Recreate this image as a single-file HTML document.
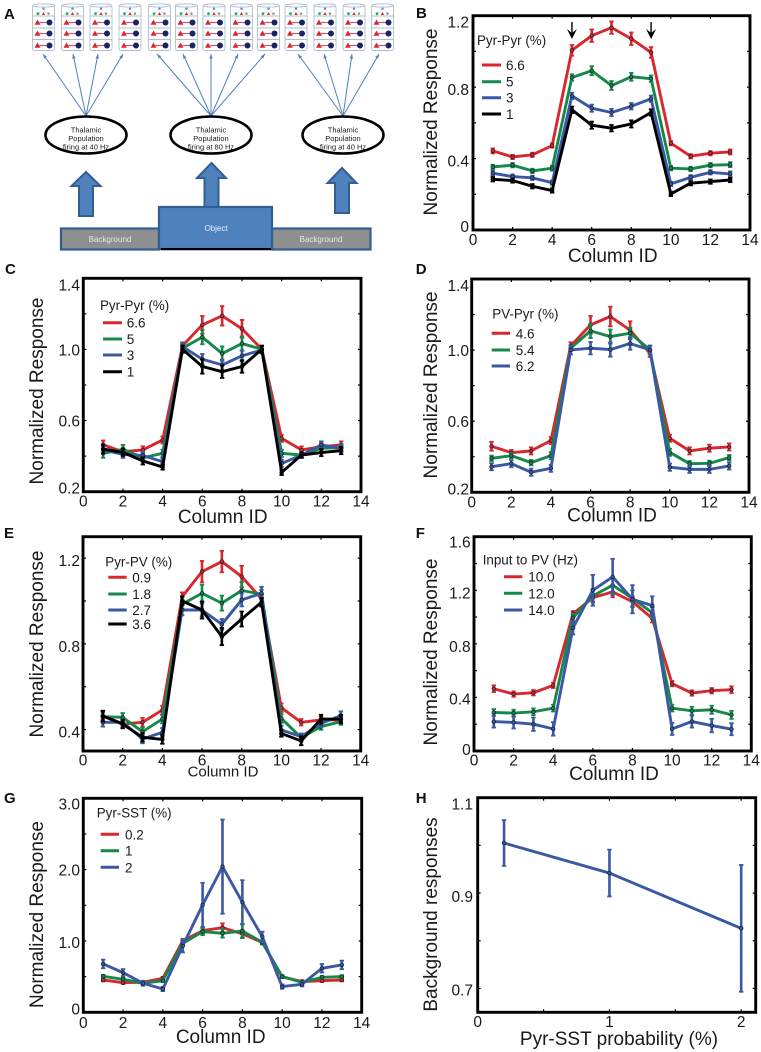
<!DOCTYPE html>
<html lang="en">
<head>
<meta charset="utf-8">
<title>Normalized response figure</title>
<style>
html,body{margin:0;padding:0;background:#fff;}
#figure{display:block;width:761px;height:1052px;font-family:"Liberation Sans",sans-serif;filter:blur(0.35px);}
text{font-family:"Liberation Sans",sans-serif;fill:#1a1a1a;}
</style>
</head>
<body>
<svg id="figure" xmlns="http://www.w3.org/2000/svg" width="761" height="1052" viewBox="0 0 761 1052"></svg>
<script>
// ---------- shared categories ----------
const columnIds = [1,2,3,4,5,6,7,8,9,10,11,12,13];
const columnTicks = [0,2,4,6,8,10,12,14];

// ---------- panel B ----------
const bLabels = ['6.6','5','3','1'];
const bRed = [.443,.409,.421,.473,1.006,1.088,1.133,1.071,.994,.486,.413,.43,.437];
const bGreen = [.353,.363,.331,.346,.854,.892,.809,.858,.847,.346,.342,.363,.366];
const bBlue = [.318,.299,.292,.265,.751,.682,.658,.693,.735,.258,.295,.323,.314];
const bBlack = [.284,.277,.245,.221,.673,.587,.570,.594,.658,.202,.262,.271,.28];
const bRedErr = [.014,.012,.012,.012,.03,.035,.035,.035,.03,.012,.012,.012,.014];
const bGreenErr = [.012,.012,.012,.014,.018,.025,.025,.022,.018,.012,.012,.012,.014];
const bBlueErr = [.014,.012,.012,.012,.018,.02,.02,.018,.018,.012,.012,.012,.014];
const bBlackErr = [.012,.012,.012,.012,.018,.02,.018,.02,.018,.012,.012,.012,.012];
const bTicks = ['0','0.4','0.8','1.2'];

// ---------- panel C ----------
const cLabels = ['6.6','5','3','1'];
const cRed = [.463,.425,.435,.491,1.02,1.138,1.189,1.116,1.001,.5,.435,.453,.463];
const cGreen = [.416,.438,.391,.416,1.007,1.069,.977,1.033,1.001,.416,.406,.444,.448];
const cBlue = [.435,.41,.403,.369,1.016,.945,.913,.964,.997,.359,.406,.463,.444];
const cBlack = [.44,.421,.373,.339,1.001,.904,.875,.904,1.001,.309,.406,.42,.431];
const cRedErr = [.025,.02,.02,.02,.02,.05,.055,.05,.02,.02,.02,.02,.02];
const cGreenErr = [.025,.025,.02,.02,.02,.04,.04,.04,.02,.02,.015,.02,.02];
const cBlueErr = [.02,.02,.02,.02,.02,.03,.03,.03,.02,.02,.015,.02,.02];
const cBlackErr = [.025,.02,.02,.015,.02,.04,.035,.035,.02,.015,.015,.02,.02];
const cTicks = ['0.2','0.6','1.0','1.4'];

// ---------- panel D ----------
const dLabels = ['4.6','5.4','6.2'];
const dRed = [.459,.423,.433,.491,1.024,1.142,1.189,1.112,.982,.504,.433,.448,.455];
const dGreen = [.391,.406,.367,.406,1.011,1.108,1.076,1.095,1.001,.425,.361,.363,.395];
const dBlue = [.344,.361,.313,.335,1.001,1.011,1.003,1.037,1.001,.341,.329,.329,.348];
const dRedErr = [.025,.015,.02,.02,.02,.05,.055,.05,.02,.02,.02,.02,.02];
const dGreenErr = [.015,.015,.015,.02,.015,.04,.04,.03,.02,.02,.015,.015,.015];
const dBlueErr = [.02,.02,.02,.02,.025,.035,.04,.035,.025,.02,.02,.02,.02];
const dTicks = ['0.2','0.6','1.0','1.4'];

// ---------- panel E ----------
const eLabels = ['0.9','1.8','2.7','3.6'];
const eRed = [.465,.426,.434,.491,1.02,1.137,1.184,1.114,1.01,.502,.434,.445,.445];
const eGreen = [.46,.457,.39,.449,.985,1.036,.99,1.049,1.032,.452,.362,.414,.437];
const eBlue = [.434,.434,.356,.387,.958,.958,.891,1.005,1.036,.398,.367,.429,.465];
const eBlack = [.463,.426,.364,.354,1.0,.958,.834,.916,.994,.382,.347,.449,.449];
const eRedErr = [.02,.015,.02,.02,.02,.05,.05,.05,.02,.02,.015,.015,.015];
const eGreenErr = [.02,.02,.02,.02,.02,.04,.035,.04,.02,.02,.015,.015,.015];
const eBlueErr = [.02,.015,.02,.02,.025,.03,.025,.03,.03,.02,.015,.015,.02];
const eBlackErr = [.025,.02,.02,.02,.02,.04,.04,.035,.02,.015,.02,.02,.02];
const eTicks = ['0.4','0.8','1.2'];

// ---------- panel F ----------
const fLabels = ['10.0','12.0','14.0'];
const fRed = [.465,.425,.435,.49,1.025,1.145,1.188,1.115,.99,.503,.433,.45,.458];
const fGreen = [.288,.283,.293,.32,.995,1.158,1.238,1.14,1.033,.32,.3,.308,.27];
const fBlue = [.22,.213,.2,.165,.92,1.2,1.3,1.133,1.085,.165,.22,.19,.163];
const fRedErr = [.025,.02,.02,.02,.02,.03,.04,.04,.03,.02,.02,.02,.025];
const fGreenErr = [.025,.025,.025,.025,.03,.05,.06,.06,.04,.025,.03,.03,.03];
const fBlueErr = [.045,.045,.05,.05,.05,.115,.135,.105,.07,.045,.045,.05,.045];
const fTicks = ['0','0.4','0.8','1.2','1.6'];

// ---------- panel G ----------
const gLabels = ['0.2','1','2'];
const gRed = [.453,.416,.42,.477,1.0,1.145,1.187,1.1,.98,.5,.43,.444,.453];
const gGreen = [.505,.463,.407,.444,.967,1.131,1.107,1.14,.981,.5,.42,.49,.5];
const gBlue = [.678,.556,.407,.327,.93,1.505,2.042,1.542,1.06,.36,.393,.617,.664];
const gRedErr = [.02,.02,.02,.02,.03,.05,.06,.05,.03,.02,.02,.02,.02];
const gGreenErr = [.02,.02,.02,.02,.03,.05,.06,.1,.03,.02,.02,.02,.02];
const gBlueErr = [.06,.05,.035,.03,.09,.31,.66,.31,.07,.03,.03,.06,.06];
const gTicks = ['0','1.0','2.0','3.0'];

// ---------- panel H ----------
const hProbabilities = [0.2,1,2];
const hBackground = [1.005,.942,.826];
const hBackgroundErr = [.048,.049,.133];
const hXTicks = [0,1,2];
const hYTicks = ['0.7','0.9','1.1'];

// ---------- helpers ----------
const RED = '#d8272d', GREEN = '#14894a', BLUE = '#3a59a5', BLACK = '#000000';
const root = document.getElementById('figure');
const NS = 'http://www.w3.org/2000/svg';

function mk(tag, parent, name, attrs, content) {
  const el = document.createElementNS(NS, tag);
  
  
  for (const k in attrs) el.setAttribute(k, attrs[k]);
  if (content !== undefined) el.textContent = content;
  parent.appendChild(el);
  return el;
}

function panelLetter(letter, x, y) {
  mk('text', root, 'panel-letter-' + letter.toLowerCase(), {x:x, y:y, 'font-size':15, 'font-weight':'bold', style:'fill:#111'}, letter);
}

function drawPanel(p) {
  const g = mk('g', root, 'panel-' + p.id, {});
  const sx = v => p.left + (v - p.xMin) / (p.xMax - p.xMin) * (p.right - p.left);
  const sy = v => p.bottom - (v - p.yMin) / (p.yMax - p.yMin) * (p.bottom - p.top);

  // minor and major ticks
  const ticks = mk('g', g, 'axis-ticks', {stroke:'#000', 'stroke-width':1.2});
  for (let v = p.xMin; v <= p.xMax + 1e-6; v += p.xTickStep) {
    const x = sx(v);
    mk('line', ticks, 'x-tick', {x1:x, x2:x, y1:p.bottom, y2:p.bottom - 3});
    mk('line', ticks, 'x-tick-top', {x1:x, x2:x, y1:p.top, y2:p.top + 3});
  }
  for (let i = 0; ; i++) {
    const v = p.yTickStart + i * p.yTickStep;
    if (v > p.yMax + 1e-6) break;
    const y = sy(v);
    mk('line', ticks, 'y-tick', {x1:p.left, x2:p.left + 3, y1:y, y2:y});
    mk('line', ticks, 'y-tick-right', {x1:p.right, x2:p.right - 3, y1:y, y2:y});
  }

  // series
  p.series.forEach(s => {
    const sg = mk('g', g, 'series-' + s.name, {});
    s.values.forEach((v, i) => {
      const x = sx(p.xs[i]), e = s.err[i];
      const y0 = sy(v - e), y1 = sy(v + e);
      mk('line', sg, 'error-bar', {x1:x, x2:x, y1:y0, y2:y1, stroke:s.color, 'stroke-width':p.errWidth});
      mk('line', sg, 'error-cap', {x1:x - 2.2, x2:x + 2.2, y1:y0, y2:y0, stroke:s.color, 'stroke-width':1.8});
      mk('line', sg, 'error-cap', {x1:x - 2.2, x2:x + 2.2, y1:y1, y2:y1, stroke:s.color, 'stroke-width':1.8});
    });
    const pts = s.values.map((v, i) => sx(p.xs[i]).toFixed(2) + ',' + sy(v).toFixed(2)).join(' ');
    mk('polyline', sg, 'series-line', {points:pts, fill:'none', stroke:s.color, 'stroke-width':2.9, 'stroke-linejoin':'round'});
    s.values.forEach((v, i) => {
      mk('circle', sg, 'data-point', {cx:sx(p.xs[i]), cy:sy(v), r:1.8, fill:s.color, stroke:s.color === BLACK ? '#000' : '#1c1c2c', 'stroke-width':0.8});
    });
  });

  // frame
  mk('rect', g, 'plot-frame', {x:p.left, y:p.top, width:p.right - p.left, height:p.bottom - p.top, fill:'none', stroke:'#000', 'stroke-width':2.9});

  // tick labels
  p.xLabels.forEach(v => {
    mk('text', g, 'x-tick-label', {x:sx(v), y:p.xLabelY, 'font-size':15.5, 'text-anchor':'middle'}, String(v));
  });
  p.yLabels.forEach((t, i) => {
    mk('text', g, 'y-tick-label', {x:p.yLabelX, y:sy(parseFloat(t)) + p.yLabelDy[i], 'font-size':15.5, 'text-anchor':'end'}, t);
  });

  // axis titles
  mk('text', g, 'x-axis-title', {x:p.xTitle[0], y:p.xTitle[1], 'font-size':p.xTitleSize || 19, 'text-anchor':'middle'}, p.xTitleText);
  mk('text', g, 'y-axis-title', {transform:'translate(' + p.yTitle[0] + ',' + p.yTitle[1] + ') rotate(-90)', 'font-size':19, 'text-anchor':'middle'}, p.yTitleText);

  // legend
  if (p.legend) {
    const lg = mk('g', g, 'legend', {});
    mk('text', lg, 'legend-title', {x:p.legend.titleX, y:p.legend.titleY, 'font-size':13.4}, p.legend.title);
    p.series.forEach((s, i) => {
      const y = p.legend.ys[i];
      mk('line', lg, 'legend-swatch', {x1:p.legend.x1, x2:p.legend.x2, y1:y, y2:y, stroke:s.color, 'stroke-width':3});
      mk('text', lg, 'legend-label', {x:p.legend.textX, y:y + 5, 'font-size':13.5}, s.label);
    });
  }
  return {g, sx, sy};
}

// ---------- panel A (schematic) ----------
(function () {
  const a = mk('g', root, 'panel-a-schematic', {});
  const colXs = [43.5,72.5,101,130,159.5,186.5,214,241.5,268.5,296,325,354,382.5];
  const cols = mk('g', a, 'cortical-columns', {});
  colXs.forEach(cx => {
    const c = mk('g', cols, 'cortical-column', {});
    mk('rect', c, 'column-body', {x:cx - 11, y:5.5, width:22, height:45, rx:2, fill:'#fff', stroke:'#aebed2', 'stroke-width':0.9});
    mk('ellipse', c, 'column-top', {cx:cx, cy:5.5, rx:11, ry:1.6, fill:'#fff', stroke:'#aebed2', 'stroke-width':0.9});
    [16,28,39.5].forEach(y => {
      mk('line', c, 'column-layer-line', {x1:cx - 11, x2:cx + 11, y1:y, y2:y, stroke:'#aebed2', 'stroke-width':0.9});
    });
    mk('circle', c, 'cell-top', {cx:cx, cy:8.7, r:1.2, fill:'#5b86c4'});
    mk('line', c, 'cell-link', {x1:cx, x2:cx - 5, y1:9, y2:13.7, stroke:'#aab', 'stroke-width':0.4});
    mk('line', c, 'cell-link', {x1:cx, x2:cx + 5, y1:9, y2:13.7, stroke:'#aab', 'stroke-width':0.4});
    mk('circle', c, 'cell-green', {cx:cx - 5.5, cy:13.7, r:1.4, fill:'#22b060'});
    mk('path', c, 'cell-red', {d:'M' + (cx - 1.7) + ' 15 L' + cx + ' 12 L' + (cx + 1.7) + ' 15 Z', fill:'#d8272d'});
    mk('circle', c, 'cell-grey', {cx:cx + 5, cy:13.7, r:1.2, fill:'#888'});
    [22.5,33.5,45.5].forEach(y => {
      mk('path', c, 'pyramidal-cell', {d:'M' + (cx - 9) + ' ' + (y + 2.2) + ' L' + (cx - 6) + ' ' + (y - 3) + ' L' + (cx - 3) + ' ' + (y + 2.2) + ' Z', fill:'#d8272d'});
      mk('line', c, 'cell-connection', {x1:cx - 4, x2:cx + 3, y1:y, y2:y, stroke:'#c25a7a', 'stroke-width':1.2});
      mk('circle', c, 'inhibitory-cell', {cx:cx + 6, cy:y, r:3, fill:'#1b2460'});
    });
  });

  const fans = [
    {ox:86, oy:116, targets:[43,73,98,123]},
    {ox:211, oy:116, targets:[157,183,211,238,265]},
    {ox:343, oy:116, targets:[298,324,352,379]}
  ];
  const fg = mk('g', a, 'thalamic-projections', {});
  fans.forEach(f => {
    f.targets.forEach(tx => {
      const ty = 54;
      mk('line', fg, 'projection-arrow', {x1:f.ox, y1:f.oy, x2:tx, y2:ty, stroke:'#4f81bd', 'stroke-width':1});
      const ang = Math.atan2(ty - f.oy, tx - f.ox);
      const L = 4.5, W = 1.7;
      const bx = tx - L * Math.cos(ang), by = ty - L * Math.sin(ang);
      const nx = -Math.sin(ang) * W, ny = Math.cos(ang) * W;
      mk('polygon', fg, 'projection-arrowhead', {points:tx + ',' + ty + ' ' + (bx + nx) + ',' + (by + ny) + ' ' + (bx - nx) + ',' + (by - ny), fill:'#4f81bd'});
    });
  });

  [{cx:86, name:'left', rate:'firing at 40 Hz'}, {cx:211, name:'middle', rate:'firing at 80 Hz'}, {cx:343, name:'right', rate:'firing at 40 Hz'}].forEach(e => {
    const eg = mk('g', a, 'thalamic-population-' + e.name, {});
    mk('ellipse', eg, 'population-ellipse', {cx:e.cx, cy:135, rx:40.5, ry:18.5, fill:'#fff', stroke:'#000', 'stroke-width':2.6});
    mk('text', eg, 'population-label', {x:e.cx, y:132.7, 'font-size':7.5, 'text-anchor':'middle'}, 'Thalamic');
    mk('text', eg, 'population-label', {x:e.cx, y:141, 'font-size':7.5, 'text-anchor':'middle'}, 'Population');
    mk('text', eg, 'population-label', {x:e.cx, y:149.5, 'font-size':7.5, 'text-anchor':'middle'}, e.rate);
  });

  [{c:86, tip:172, hb:186, hw:14.5, sw:7, b:216}, {c:211.5, tip:163, hb:178, hw:14.5, sw:7, b:207}, {c:342, tip:168, hb:183, hw:14.5, sw:7, b:213}].forEach(b => {
    const d = 'M' + b.c + ' ' + b.tip + ' L' + (b.c + b.hw) + ' ' + b.hb + ' L' + (b.c + b.sw) + ' ' + b.hb + ' L' + (b.c + b.sw) + ' ' + b.b + ' L' + (b.c - b.sw) + ' ' + b.b + ' L' + (b.c - b.sw) + ' ' + b.hb + ' L' + (b.c - b.hw) + ' ' + b.hb + ' Z';
    mk('path', a, 'input-block-arrow', {d:d, fill:'#4f81bd', stroke:'#2f5f93', 'stroke-width':2});
  });

  mk('rect', a, 'background-bar-left', {x:61, y:228.5, width:98, height:21, fill:'#8f8f8f', stroke:'#2f5f93', 'stroke-width':2.2});
  mk('rect', a, 'background-bar-right', {x:272, y:228.5, width:98.5, height:21, fill:'#8f8f8f', stroke:'#2f5f93', 'stroke-width':2.2});
  mk('rect', a, 'object-bar', {x:159, y:207, width:113, height:42, fill:'#4f81bd', stroke:'#2f5f93', 'stroke-width':2.2});
  mk('rect', a, 'object-base', {x:161, y:248, width:110, height:2.2, fill:'#000'});
  mk('text', a, 'object-label', {x:216, y:231, 'font-size':8, 'text-anchor':'middle', style:'fill:#e8eef7'}, 'Object');
  mk('text', a, 'background-label-left', {x:110, y:242, 'font-size':8, 'text-anchor':'middle', style:'fill:#e8e8e8'}, 'Background');
  mk('text', a, 'background-label-right', {x:321, y:242, 'font-size':8, 'text-anchor':'middle', style:'fill:#e8e8e8'}, 'Background');
})();

// ---------- panels ----------
const common = {xs:columnIds, xMin:0, xMax:14, xTickStep:2, xLabels:columnTicks, errWidth:2.6, xTitleText:'Column ID', yTitleText:'Normalized Response'};

const panelB = drawPanel(Object.assign({}, common, {
  id:'b', left:473, right:750, top:15.7, bottom:230, yMin:0, yMax:1.2, yTickStart:0, yTickStep:.2,
  series:[
    {name:'red', label:bLabels[0], color:RED, values:bRed, err:bRedErr},
    {name:'green', label:bLabels[1], color:GREEN, values:bGreen, err:bGreenErr},
    {name:'blue', label:bLabels[2], color:BLUE, values:bBlue, err:bBlueErr},
    {name:'black', label:bLabels[3], color:BLACK, values:bBlack, err:bBlackErr}
  ],
  xLabelY:245, yLabelX:469, yLabels:bTicks, yLabelDy:[2,8,8,12],
  xTitle:[612.7,262], yTitle:[437,122],
  legend:{title:'Pyr-Pyr (%)', titleX:477, titleY:45, x1:482, x2:501, textX:506, ys:[65,81.7,97.7,114]}
}));
[5,9].forEach(c => {
  const x = panelB.sx(c);
  mk('line', panelB.g, 'stimulus-edge-arrow-shaft', {x1:x, x2:x, y1:22, y2:34, stroke:'#000', 'stroke-width':1.4});
  mk('polygon', panelB.g, 'stimulus-edge-arrow-head', {points:(x - 5) + ',29 ' + x + ',33 ' + (x + 5) + ',29 ' + x + ',39', fill:'#000'});
});

drawPanel(Object.assign({}, common, {
  id:'c', left:83.3, right:361, top:278.3, bottom:491.7, yMin:.2, yMax:1.4, yTickStart:.2, yTickStep:.2,
  series:[
    {name:'red', label:cLabels[0], color:RED, values:cRed, err:cRedErr},
    {name:'green', label:cLabels[1], color:GREEN, values:cGreen, err:cGreenErr},
    {name:'blue', label:cLabels[2], color:BLUE, values:cBlue, err:cBlueErr},
    {name:'black', label:cLabels[3], color:BLACK, values:cBlack, err:cBlackErr}
  ],
  xLabelY:506.7, yLabelX:80, yLabels:cTicks, yLabelDy:[2,6,6,12],
  xTitle:[222.7,523], yTitle:[43,391],
  legend:{title:'Pyr-Pyr (%)', titleX:100, titleY:310, x1:103, x2:122, textX:126.7, ys:[322.7,339,355,371.7]}
}));

drawPanel(Object.assign({}, common, {
  id:'d', left:471.7, right:749, top:279, bottom:492.3, yMin:.2, yMax:1.4, yTickStart:.2, yTickStep:.2,
  series:[
    {name:'red', label:dLabels[0], color:RED, values:dRed, err:dRedErr},
    {name:'green', label:dLabels[1], color:GREEN, values:dGreen, err:dGreenErr},
    {name:'blue', label:dLabels[2], color:BLUE, values:dBlue, err:dBlueErr}
  ],
  xLabelY:507.7, yLabelX:469, yLabels:dTicks, yLabelDy:[2,6,6,12],
  xTitle:[612,521.7], yTitle:[437,385],
  legend:{title:'PV-Pyr (%)', titleX:492.3, titleY:318.3, x1:491.7, x2:510, textX:515.7, ys:[333.3,350,366]}
}));

drawPanel(Object.assign({}, common, {
  id:'e', left:83, right:360.7, top:536.7, bottom:751, yMin:.3, yMax:1.3, yTickStart:.4, yTickStep:.2,
  series:[
    {name:'red', label:eLabels[0], color:RED, values:eRed, err:eRedErr},
    {name:'green', label:eLabels[1], color:GREEN, values:eGreen, err:eGreenErr},
    {name:'blue', label:eLabels[2], color:BLUE, values:eBlue, err:eBlueErr},
    {name:'black', label:eLabels[3], color:BLACK, values:eBlack, err:eBlackErr}
  ],
  xLabelY:765.7, yLabelX:80, yLabels:eTicks, yLabelDy:[8,8,8],
  xTitle:[223,776.7], xTitleSize:15, yTitle:[43,644],
  legend:{title:'Pyr-PV (%)', titleX:105.3, titleY:566.7, x1:108.3, x2:126.7, textX:132.3, ys:[577.3,594,610,624]}
}));

drawPanel(Object.assign({}, common, {
  id:'f', left:474, right:751.3, top:536.7, bottom:751, yMin:0, yMax:1.6, yTickStart:0, yTickStep:.2,
  series:[
    {name:'red', label:fLabels[0], color:RED, values:fRed, err:fRedErr},
    {name:'green', label:fLabels[1], color:GREEN, values:fGreen, err:fGreenErr},
    {name:'blue', label:fLabels[2], color:BLUE, values:fBlue, err:fBlueErr}
  ],
  xLabelY:765.7, yLabelX:470.7, yLabels:fTicks, yLabelDy:[4,7,8,8,11],
  xTitle:[614,780], yTitle:[437,652],
  legend:{title:'Input to PV (Hz)', titleX:482.7, titleY:564.3, x1:504, x2:522.3, textX:528.3, ys:[576.7,593.3,610]}
}));

drawPanel(Object.assign({}, common, {
  id:'g', left:83.3, right:361.7, top:798.3, bottom:1012.3, yMin:0, yMax:3, yTickStart:0, yTickStep:.5,
  series:[
    {name:'red', label:gLabels[0], color:RED, values:gRed, err:gRedErr},
    {name:'green', label:gLabels[1], color:GREEN, values:gGreen, err:gGreenErr},
    {name:'blue', label:gLabels[2], color:BLUE, values:gBlue, err:gBlueErr}
  ],
  xLabelY:1028, yLabelX:80, yLabels:gTicks, yLabelDy:[2,7,6,11],
  xTitle:[220.7,1043], yTitle:[43,914.5],
  legend:{title:'Pyr-SST (%)', titleX:96.7, titleY:817.3, x1:100.7, x2:119, textX:125, ys:[834.3,850.7,867.3]}
}));

drawPanel({
  id:'h', left:477.7, right:755.7, top:797.7, bottom:1012.3, xs:hProbabilities, xMin:0, xMax:2.11, xTickStep:.5, xLabels:hXTicks,
  yMin:.65, yMax:1.1, yTickStart:.7, yTickStep:.1, errWidth:2.6,
  series:[{name:'blue', label:'', color:BLUE, values:hBackground, err:hBackgroundErr}],
  xLabelY:1027, yLabelX:473, yLabels:hYTicks, yLabelDy:[7,9,12],
  xTitle:[619,1045], yTitle:[437,914.5],
  xTitleText:'Pyr-SST probability (%)', yTitleText:'Background responses', legend:null
});

panelLetter('A', 4, 19);
panelLetter('B', 416, 18);
panelLetter('C', 5, 274);
panelLetter('D', 415.7, 274);
panelLetter('E', 4, 538);
panelLetter('F', 415.7, 538);
panelLetter('G', 4, 803);
panelLetter('H', 415.7, 803);
</script>
</body>
</html>
